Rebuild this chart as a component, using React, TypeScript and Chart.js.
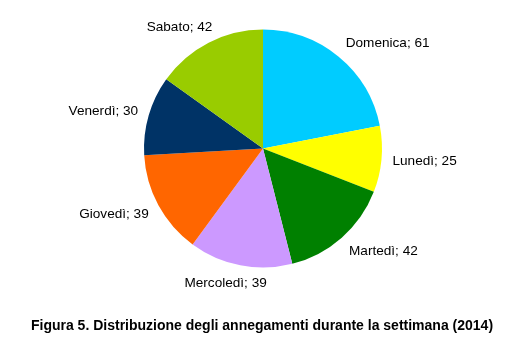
import React, { useEffect, useRef } from "react";
import { Chart, registerables } from "chart.js";

Chart.register(...registerables);

const categories = ["Domenica", "Lunedì", "Martedì", "Mercoledì", "Giovedì", "Venerdì", "Sabato"];
const values = [61, 25, 42, 39, 39, 30, 42];
const colors = ["#00CCFF", "#FFFF00", "#008000", "#CC99FF", "#FF6600", "#003366", "#99CC00"];
const titleText = "Figura 5. Distribuzione degli annegamenti durante la settimana (2014)";

const FONT = "'Liberation Sans', Arial, sans-serif";

const labelPlugin = {
  id: "outLabels",
  afterDatasetsDraw(chart: any) {
    const ctx = chart.ctx;
    const meta = chart.getDatasetMeta(0);
    ctx.save();
    ctx.font = `13.6px ${FONT}`;
    ctx.fillStyle = "#000";
    ctx.textBaseline = "middle";
    ctx.textAlign = "left";
    meta.data.forEach((arc: any, i: number) => {
      const p = arc.getProps(["x", "y", "startAngle", "endAngle", "outerRadius"], true);
      const mid = (p.startAngle + p.endAngle) / 2;
      const R = p.outerRadius + 11;
      const s = Math.cos(mid);
      const d = Math.sin(mid);
      const ax = p.x + s * R;
      const text = `${categories[i]}; ${values[i]}`;
      const w = ctx.measureText(text).width;
      const f = Math.min(1, Math.max(0, (1 - s * 1.6) / 2));
      const left = ax - f * w;
      const cy = p.y + 0.5 + d * (p.outerRadius + 17.5);
      ctx.fillText(text, left, cy);
    });
    ctx.font = `bold 14px ${FONT}`;
    ctx.textAlign = "center";
    ctx.fillText(titleText, 262, 326);
    ctx.restore();
  },
};

export default function App() {
  const ref = useRef<HTMLCanvasElement>(null);
  useEffect(() => {
    if (!ref.current) return;
    const chart = new Chart(ref.current, {
      type: "pie",
      data: {
        labels: categories,
        datasets: [
          {
            data: values,
            backgroundColor: colors,
            borderWidth: 0,
          },
        ],
      },
      options: {
        responsive: false,
        animation: false,
        devicePixelRatio: 1,
        layout: { padding: { top: 29.5, bottom: 84.5, left: 144, right: 129 } },
        plugins: {
          legend: { display: false },
          tooltip: { enabled: false },
          title: { display: false },
        },
      },
      plugins: [labelPlugin],
    });
    return () => chart.destroy();
  }, []);
  return (
    <div style={{ position: "fixed", left: 0, top: 0, width: 511, height: 352, background: "#fff" }}>
      <canvas ref={ref} width={511} height={352} style={{ width: 511, height: 352 }} />
    </div>
  );
}
